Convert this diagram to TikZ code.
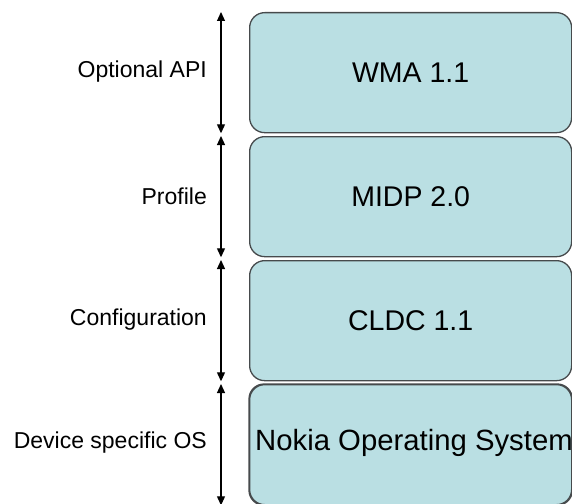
\documentclass[tikz,border=0pt]{standalone}
\usepackage{fontspec}
\setmainfont{Liberation Sans}
\usetikzlibrary{arrows.meta}
\definecolor{layerfill}{RGB}{186,223,227}
\definecolor{layeredge}{RGB}{70,74,76}
\tikzset{
  layer/.style={draw=layeredge, line width=1.3pt, fill=layerfill,
    rounded corners=15pt, minimum width=322pt, minimum height=120pt,
    anchor=north west, inner sep=0pt,
    font=\fontsize{28.5}{32}\selectfont},
  layeroutline/.style={draw=layeredge, line width=1.3pt, rounded corners=15pt},
  layertext/.style={inner sep=0pt, font=\fontsize{29.3}{33}\selectfont},
  sidelabel/.style={anchor=east, inner sep=0pt,
    font=\fontsize{23}{26}\selectfont},
  span/.style={line width=1.2pt, {Triangle[length=9pt,width=8pt]}-{Triangle[length=9pt,width=8pt]}}
}
\begin{document}
\begin{tikzpicture}[x=1pt,y=-1pt]
  \useasboundingbox (0,0) rectangle (572,503);
  \clip (0,0) rectangle (572,503);

  % stacked platform layers
  \node[layer] (wma)   at (249,12)  {WMA 1.1};
  \node[layer] (midp)  at (249,136) {MIDP 2.0};
  \node[layer] (cldc)  at (249,260) {CLDC 1.1};
  \node[layer] (os)    at (249,384) {};
  % the OS name is wider than its box and is cut at the box edge
  \begin{scope}
    \clip (os.north west) rectangle (os.south east);
    \node[layertext, anchor=west] (ostext) at (255,443) {Nokia Operating System};
  \end{scope}
  \draw[layeroutline] (os.north west) rectangle (os.south east);

  % extent markers beside each layer
  \coordinate (ax) at (221,0);
  \draw[span] (ax |- wma.north)  -- (ax |- wma.south);
  \draw[span] (ax |- midp.north) -- (ax |- midp.south);
  \draw[span] (ax |- cldc.north) -- (ax |- cldc.south);
  \draw[span] (ax |- os.north)   -- (ax |- os.south);

  % layer names
  \node[sidelabel] (l1) at (207,72)  {Optional API};
  \node[sidelabel] (l2) at (207,196) {Profile};
  \node[sidelabel] (l3) at (207,320) {Configuration};
  \node[sidelabel] (l4) at (207,443) {Device specific OS};
\end{tikzpicture}
\end{document}
